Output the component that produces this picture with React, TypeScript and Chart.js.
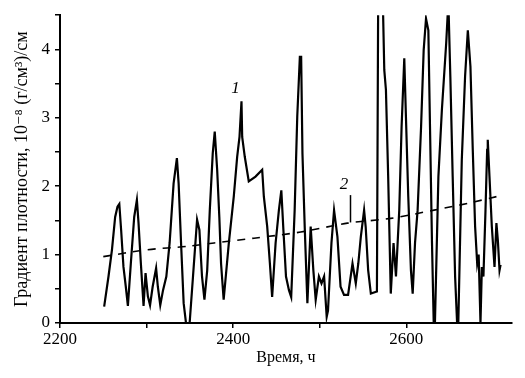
import React, { useEffect, useRef } from "react";
import { Chart, registerables } from "chart.js";

Chart.register(...registerables);

const times1 = [
  2251, 2256, 2260, 2263.7, 2266.4, 2268.5, 2270.6, 2273.3, 2276, 2278.4,
  2281.8, 2285.7, 2288.8, 2290.7, 2293.4, 2296.5, 2298.8, 2301.5, 2304, 2307,
  2311, 2313, 2315.8, 2319, 2322.8, 2326.6, 2331.2, 2335, 2337, 2339.8,
  2342.8, 2345.5, 2349.7, 2353.6, 2358.3, 2361, 2364, 2366.8, 2370, 2373,
  2376.4, 2378.7, 2381.5, 2384, 2386, 2389, 2395, 2400.7, 2404.6, 2407.3,
  2409.6, 2410.4, 2413.4, 2418, 2425.8, 2433.5, 2435.4, 2439.3, 2442.4, 2445,
  2449, 2452.8, 2455.6, 2458, 2461, 2464.4, 2467, 2471, 2474, 2477,
  2478.5, 2480, 2482.6, 2485.7, 2489.5, 2492.6, 2495.3, 2499, 2502, 2505,
  2508, 2509.5, 2513.5, 2516.5, 2520.4, 2524, 2528, 2532.7, 2537.8, 2541.6,
  2544.5, 2547.4, 2551.2, 2553, 2555.9, 2559, 2566, 2567.5, 2572.5, 2574.5,
  2576.4, 2579, 2582, 2585.2, 2588, 2591.8, 2594.5, 2597.6, 2599.5, 2602.2,
  2605.3, 2607.3, 2610, 2613, 2617, 2620, 2622.7, 2625.4, 2627.3, 2629.6,
  2631.6, 2633, 2637, 2641, 2646, 2648.5, 2650.8, 2653.5, 2656.3, 2658.6,
  2660, 2664, 2667.8, 2671, 2674, 2676.7, 2679.4, 2681.8, 2683.5, 2685.6,
  2687.2, 2689, 2691.4, 2693.3, 2694, 2696, 2698.7, 2701.8, 2704, 2705.7,
  2707.6, 2708.8,
];

const values1 = [
  0.24, 0.68, 1.07, 1.55, 1.7, 1.74, 1.36, 0.82, 0.53, 0.25,
  0.87, 1.55, 1.8, 1.46, 0.87, 0.25, 0.73, 0.39, 0.26, 0.53,
  0.8, 0.53, 0.26, 0.48, 0.68, 1.17, 2.04, 2.41, 2.04, 1.17,
  0.29, 0, 0, 0.68, 1.51, 1.36, 0.68, 0.34, 0.77, 1.65,
  2.48, 2.8, 2.24, 1.55, 0.87, 0.34, 1.17, 1.85, 2.43, 2.72,
  3.24, 2.72, 2.43, 2.07, 2.14, 2.24, 1.85, 1.41, 0.87, 0.38,
  1.17, 1.65, 1.94, 1.36, 0.68, 0.48, 0.38, 1.65, 3.02, 3.89,
  3.89, 2.48, 1.41, 0.29, 1.41, 0.77, 0.34, 0.68, 0.58, 0.68,
  0.09, 0.18, 1.17, 1.65, 1.26, 0.53, 0.41, 0.41, 0.87, 0.58,
  0.87, 1.26, 1.65, 1.41, 0.77, 0.43, 0.46, 4.9, 4.9, 3.7,
  3.41, 2.14, 0.43, 1.17, 0.68, 1.65, 2.87, 3.87, 3.02, 1.85,
  0.77, 0.43, 1.17, 1.65, 2.87, 3.99, 4.45, 4.28, 2.87, 1.17,
  0, 0, 2.14, 3.11, 4.09, 4.7, 3.6, 2.14, 0.68, 0,
  0, 2.38, 3.6, 4.28, 3.75, 2.53, 1.41, 0.87, 1.0, 0,
  0.82, 0.68, 1.65, 2.53, 2.68, 2.14, 1.41, 0.82, 1.46, 1.2,
  0.77, 0.85,
];

const times2 = [2250, 2300, 2347, 2378, 2424, 2478, 2532, 2582, 2632, 2671, 2705];
const values2 = [0.97, 1.07, 1.12, 1.17, 1.24, 1.33, 1.46, 1.53, 1.65, 1.75, 1.85];

const xTickLabels = [2200, 2400, 2600];
const yTickLabels = [0, 1, 2, 3, 4];

const xTitle = "Время, ч";
const yTitle = "Градиент плотности, 10⁻⁸ (г/см³)/см";

const label1 = { text: "1", t: 2402.6, v: 3.43 };
const label2 = { text: "2", t: 2528, v: 2.03 };
const pointer2 = { t: 2534.6, vTop: 1.87, vBottom: 1.47 };

const FONT = "'Liberation Serif', 'DejaVu Serif', serif";

const annotations = {
  id: "curveLabels",
  afterDatasetsDraw(chart: any) {
    const { ctx, scales } = chart;
    const x = scales.x;
    const y = scales.y;
    ctx.save();
    ctx.fillStyle = "#000";
    ctx.font = `italic 17px ${FONT}`;
    ctx.textAlign = "center";
    ctx.textBaseline = "middle";
    for (const l of [label1, label2]) {
      ctx.fillText(l.text, x.getPixelForValue(l.t), y.getPixelForValue(l.v));
    }
    ctx.strokeStyle = "#000";
    ctx.lineWidth = 1.5;
    ctx.beginPath();
    const px = Math.round(x.getPixelForValue(pointer2.t)) + 0.5;
    ctx.moveTo(px, y.getPixelForValue(pointer2.vTop));
    ctx.lineTo(px, y.getPixelForValue(pointer2.vBottom));
    ctx.stroke();
    ctx.restore();
  },
};

export default function App() {
  const ref = useRef<HTMLCanvasElement | null>(null);

  useEffect(() => {
    if (!ref.current) return;
    const chart = new Chart(ref.current, {
      type: "line",
      data: {
        datasets: [
          {
            data: times1.map((t, i) => ({ x: t, y: values1[i] })),
            borderColor: "#000",
            borderWidth: 2.2,
            pointRadius: 0,
            tension: 0,
            fill: false,
          },
          {
            data: times2.map((t, i) => ({ x: t, y: values2[i] })),
            borderColor: "#000",
            borderWidth: 1.6,
            borderDash: [8, 7],
            pointRadius: 0,
            tension: 0.3,
            fill: false,
          },
        ],
      },
      plugins: [annotations],
      options: {
        animation: false,
        responsive: false,
        devicePixelRatio: 1,
        layout: { padding: { top: 15, right: 13, left: 0, bottom: 0 } },
        plugins: {
          legend: { display: false },
          tooltip: { enabled: false },
        },
        scales: {
          x: {
            type: "linear",
            min: 2200,
            max: 2722,
            afterFit: (s: any) => {
              s.height = 55;
            },
            afterBuildTicks: (s: any) => {
              s.ticks = s.ticks.filter((t: any) => Math.abs(t.value % 100) < 1e-6);
            },
            ticks: {
              stepSize: 100,
              autoSkip: false,
              maxRotation: 0,
              padding: 1,
              color: "#000",
              font: { family: FONT, size: 17 },
              callback: (v: any) => (xTickLabels.includes(Number(v)) ? String(v) : ""),
            },
            grid: {
              drawOnChartArea: false,
              drawTicks: true,
              tickLength: 5,
              color: "#000",
              lineWidth: 1.5,
            },
            border: { display: true, color: "#000", width: 2 },
            title: {
              display: true,
              text: xTitle,
              color: "#000",
              font: { family: FONT, size: 16 },
              padding: { top: 0, bottom: 11 },
            },
          },
          y: {
            type: "linear",
            min: 0,
            max: 4.5,
            afterFit: (s: any) => {
              s.width = 60;
            },
            afterBuildTicks: (s: any) => {
              s.ticks = s.ticks.filter((t: any) => Math.abs((t.value * 2) % 1) < 1e-6);
            },
            ticks: {
              stepSize: 0.5,
              autoSkip: false,
              padding: 5,
              color: "#000",
              font: { family: FONT, size: 17 },
              callback: (v: any) => (yTickLabels.includes(Number(v)) ? String(v) : ""),
            },
            grid: {
              drawOnChartArea: false,
              drawTicks: true,
              tickLength: 5,
              color: "#000",
              lineWidth: 1.5,
            },
            border: { display: true, color: "#000", width: 2 },
            title: {
              display: true,
              text: yTitle,
              color: "#000",
              font: { family: FONT, size: 18 },
              padding: { top: 11, bottom: 0 },
            },
          },
        },
      },
    });
    return () => chart.destroy();
  }, []);

  return (
    <div style={{ position: "absolute", left: 0, top: 0, width: 525, height: 378, background: "#fff" }}>
      <canvas ref={ref} width={525} height={378} style={{ width: 525, height: 378 }} />
    </div>
  );
}
